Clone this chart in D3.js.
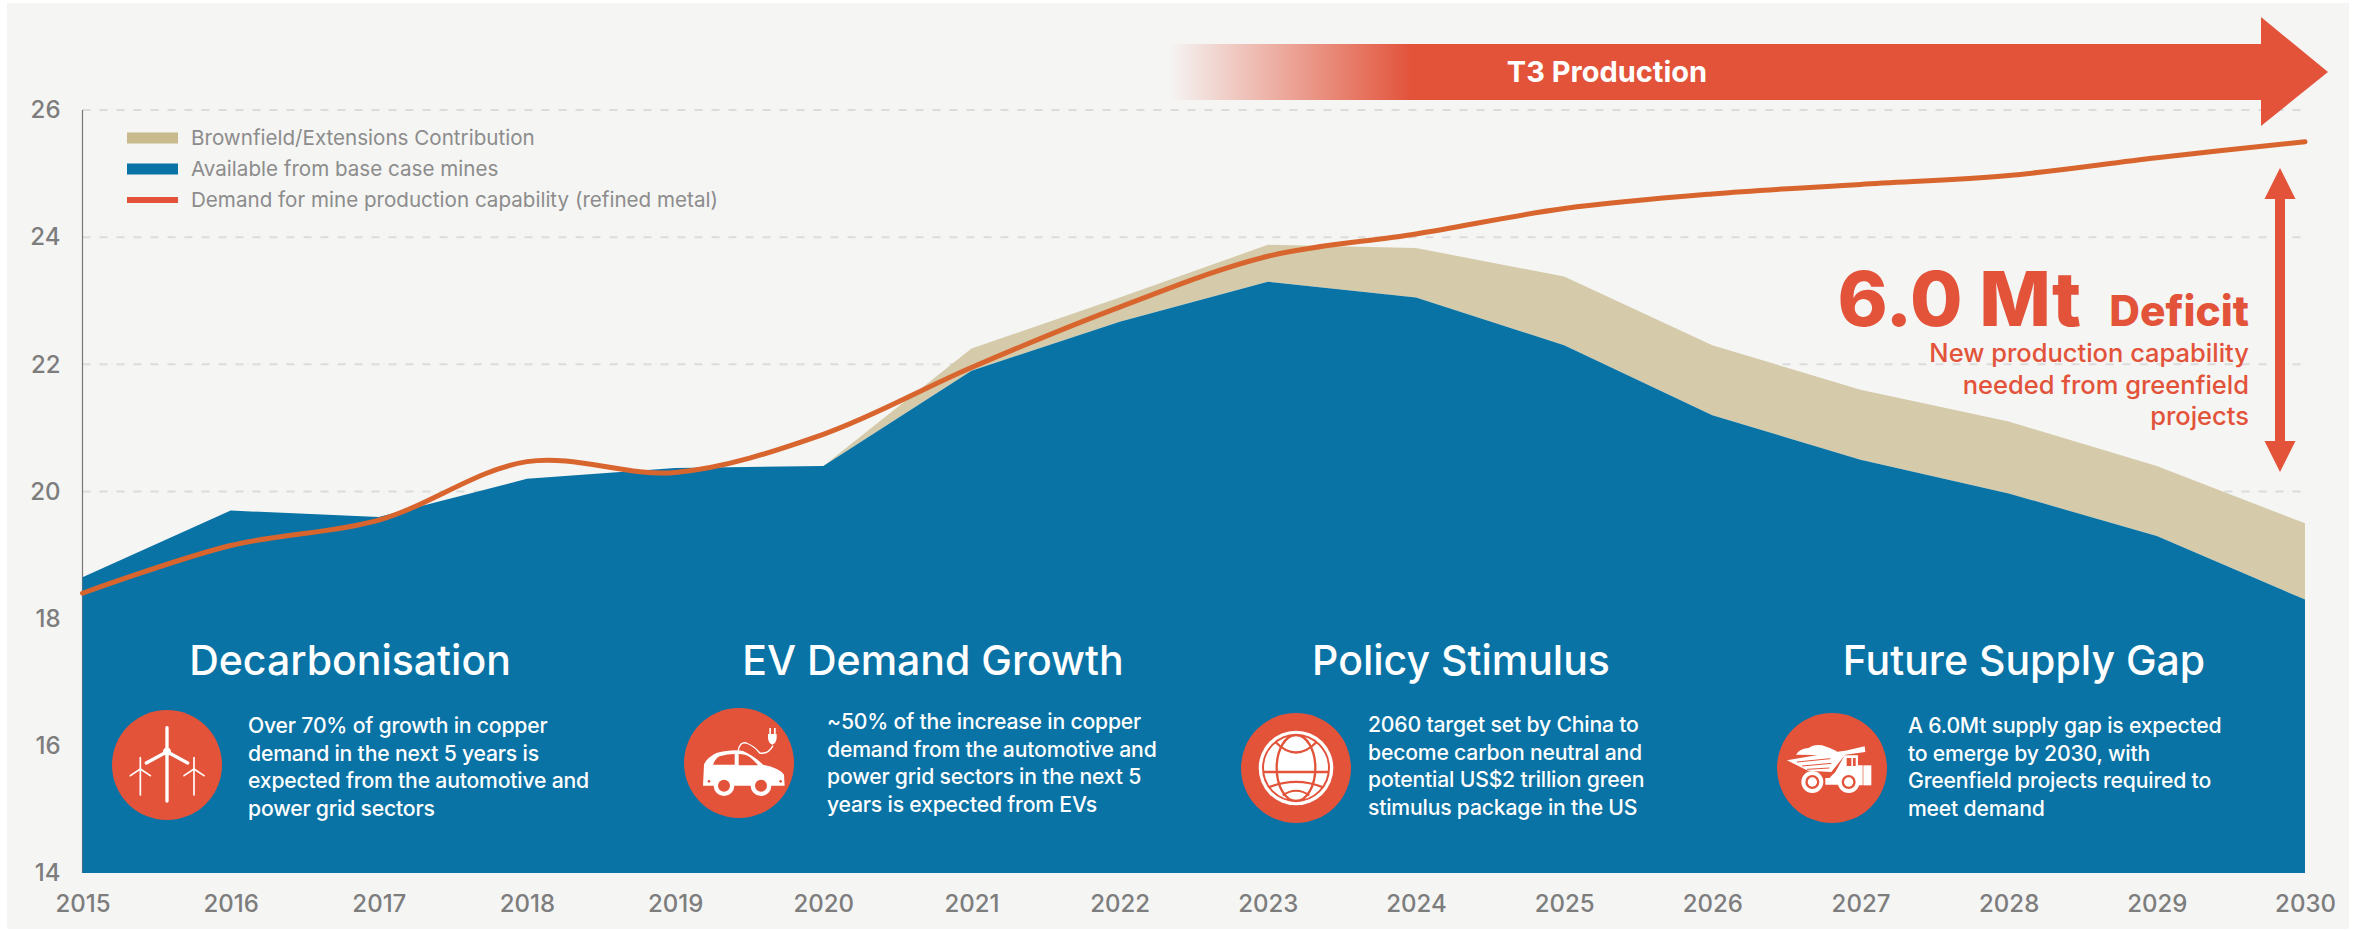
<!DOCTYPE html>
<html>
<head>
<meta charset="utf-8">
<script src="https://cdn.jsdelivr.net/npm/d3@7"></script>
<style>
  html, body { margin: 0; padding: 0; background: #fff; }
  text { font-family: Inter, "Open Sans", sans-serif; }
  .tick line { display: none; }
  .axis path.domain { display: none; }
  .axis text { font-family: Inter, sans-serif; font-size: 24px; fill: #7d7d7d; font-weight: 500; }
  .legend text { font-size: 20.6px; fill: #8c8c8c; }
  .panel-title { font-size: 41px; fill: #fff; font-weight: 500; }
  .panel-body { font-size: 21.2px; fill: #fff; font-weight: 500; letter-spacing: -0.2px; }
</style>
</head>
<body>
<svg id="chart" width="2367" height="930"></svg>
<script>
var years = [2015, 2016, 2017, 2018, 2019, 2020, 2021, 2022, 2023, 2024, 2025, 2026, 2027, 2028, 2029, 2030];
var baseMines = [18.65, 19.7, 19.6, 20.2, 20.37, 20.4, 21.9, 22.67, 23.3, 23.05, 22.3, 21.2, 20.5, 19.97, 19.3, 18.3];
var brownfieldTop = [18.65, 19.7, 19.6, 20.2, 20.37, 20.4, 22.25, 23.05, 23.88, 23.83, 23.38, 22.3, 21.6, 21.1, 20.4, 19.5];
var demand = [18.4, 19.15, 19.55, 20.47, 20.3, 20.9, 21.95, 22.9, 23.7, 24.05, 24.45, 24.68, 24.83, 24.97, 25.25, 25.5];
var yTicks = [14, 16, 18, 20, 22, 24, 26];
var legendLabels = ["Brownfield/Extensions Contribution", "Available from base case mines", "Demand for mine production capability (refined metal)"];
var panelTitles = ["Decarbonisation", "EV Demand Growth", "Policy Stimulus", "Future Supply Gap"];
var panelBodies = [
  ["Over 70% of growth in copper", "demand in the next 5 years is", "expected from the automotive and", "power grid sectors"],
  ["~50% of the increase in copper", "demand from the automotive and", "power grid sectors in the next 5", "years is expected from EVs"],
  ["2060 target set by China to", "become carbon neutral and", "potential US$2 trillion green", "stimulus package in the US"],
  ["A 6.0Mt supply gap is expected", "to emerge by 2030, with", "Greenfield projects required to", "meet demand"]
];
var deficitNotes = ["New production capability", "needed from greenfield", "projects"];

var RED = "#e2533a", BLUE = "#0a73a5", TAN = "#d5cbab", LINE = "#d9652e";

var svg = d3.select("#chart");
var x = d3.scaleLinear().domain([2015, 2030]).range([82.5, 2305]);
var y = d3.scaleLinear().domain([14, 26]).range([873, 110]);

svg.append("rect").attr("x", 7).attr("y", 3).attr("width", 2342).attr("height", 926).attr("fill", "#f5f5f4");

// grid goes under the areas
svg.append("g").selectAll("line").data(yTicks.slice(1)).enter()
   .append("line")
   .attr("x1", x(2015)).attr("x2", x(2030))
   .attr("y1", function (d) { return y(d); })
   .attr("y2", function (d) { return y(d); })
   .attr("stroke", "#dcdcdb").attr("stroke-width", 2).attr("stroke-dasharray", "8 9");

svg.append("line").attr("x1", x(2015)).attr("x2", x(2015))
   .attr("y1", y(26)).attr("y2", y(14)).attr("stroke", "#777").attr("stroke-width", 1.2);

var tanArea = d3.area()
    .x(function (d, i) { return x(years[i]); })
    .y0(function (d, i) { return y(baseMines[i]); })
    .y1(function (d) { return y(d); });
svg.append("path").attr("d", tanArea(brownfieldTop)).attr("fill", TAN);

var blueArea = d3.area()
    .x(function (d, i) { return x(years[i]); })
    .y0(y(14))
    .y1(function (d) { return y(d); });
svg.append("path").attr("d", blueArea(baseMines)).attr("fill", BLUE);

var demandLine = d3.line()
    .x(function (d, i) { return x(years[i]); })
    .y(function (d) { return y(d); })
    .curve(d3.curveCatmullRom.alpha(0.5));
svg.append("path").attr("d", demandLine(demand))
   .attr("fill", "none").attr("stroke", LINE).attr("stroke-width", 5).attr("stroke-linecap", "round");

svg.append("g").attr("class", "axis").attr("transform", "translate(" + x(2015) + ",0)")
   .call(d3.axisLeft(y).tickValues(yTicks).tickSize(0).tickPadding(22).tickFormat(d3.format("d")));
svg.append("g").attr("class", "axis").attr("transform", "translate(0," + y(14) + ")")
   .call(d3.axisBottom(x).tickValues(years).tickSize(0).tickPadding(22).tickFormat(d3.format("d")));

// legend
var legend = svg.append("g").attr("class", "legend");
var legendY = [138, 169, 200], legendH = [11, 11, 6], legendC = ["#c8ba8c", BLUE, RED];
legendLabels.forEach(function (label, i) {
  legend.append("rect").attr("x", 127).attr("y", legendY[i] - legendH[i] / 2)
        .attr("width", 51).attr("height", legendH[i]).attr("fill", legendC[i]);
  legend.append("text").attr("x", 191).attr("y", legendY[i] + 7).text(label);
});

// T3 arrow
var grad = svg.append("defs").append("linearGradient").attr("id", "fade")
    .attr("gradientUnits", "userSpaceOnUse").attr("x1", 1169).attr("x2", 1411).attr("y1", 0).attr("y2", 0);
grad.append("stop").attr("offset", 0).attr("stop-color", RED).attr("stop-opacity", 0);
grad.append("stop").attr("offset", 1).attr("stop-color", RED).attr("stop-opacity", 1);
svg.append("polygon").attr("points", "1169,44 2261,44 2261,17 2328,72 2261,126 2261,100 1169,100").attr("fill", "url(#fade)");
svg.append("text").attr("x", 1607).attr("y", 82).attr("text-anchor", "middle")
   .attr("font-size", 29).attr("font-weight", 700).attr("fill", "#fff").text("T3 Production");

// deficit arrow
svg.append("polygon")
   .attr("points", "2280,168 2295.5,199 2285,199 2285,441 2295.5,441 2280,472 2264.5,441 2275,441 2275,199 2264.5,199")
   .attr("fill", RED);
svg.append("text").attr("x", 2081).attr("y", 326).attr("text-anchor", "end")
   .attr("font-size", 76).attr("font-weight", 800).attr("fill", RED).text("6.0 Mt");
svg.append("text").attr("x", 2249).attr("y", 326).attr("text-anchor", "end")
   .attr("font-size", 42.5).attr("font-weight", 800).attr("fill", RED).text("Deficit");
deficitNotes.forEach(function (t, i) {
  svg.append("text").attr("x", 2249).attr("y", 362 + i * 31.5).attr("text-anchor", "end")
     .attr("font-size", 25.5).attr("font-weight", 500).attr("fill", RED).text(t);
});

// panels
var titleX = [350, 933, 1461, 2024], titleY = 675;
var bodyX = [248, 827, 1368, 1908], bodyY = [733, 729, 732, 733];
var iconX = [167, 739, 1296, 1832], iconY = [765, 763, 768, 768];
var iconDraw = [drawTurbines, drawCar, drawGlobe, drawTruck];

panelTitles.forEach(function (t, i) {
  svg.append("text").attr("class", "panel-title").attr("x", titleX[i]).attr("y", titleY)
     .attr("text-anchor", "middle").text(t);
  panelBodies[i].forEach(function (line, j) {
    svg.append("text").attr("class", "panel-body").attr("x", bodyX[i]).attr("y", bodyY[i] + j * 27.6).text(line);
  });
  var g = svg.append("g").attr("transform", "translate(" + iconX[i] + "," + iconY[i] + ")");
  g.append("circle").attr("r", 55).attr("fill", RED);
  iconDraw[i](g.append("g").attr("transform", "scale(0.3333)"));
});

function drawTurbines(g) {
  var W = "#fff";
  function bar(a, b, c, d, w) {
    g.append("line").attr("x1", a).attr("y1", b).attr("x2", c).attr("y2", d)
     .attr("stroke", W).attr("stroke-width", w).attr("stroke-linecap", "round");
  }
  bar(0, -112, 0, 108, 10);
  bar(0, -40, -62, -6, 10);
  bar(0, -40, 62, -6, 10);
  g.append("circle").attr("cy", -40).attr("r", 12).attr("fill", W);
  [-80, 81].forEach(function (dx) {
    bar(dx, -22, dx, 90, 5);
    bar(dx, 12, dx - 30, 32, 5);
    bar(dx, 12, dx + 30, 32, 5);
  });
}

function drawCar(g) {
  g.append("path").attr("fill", "#fff")
   .attr("d", "M-108,68 L-105,5 Q-98,-15 -68,-30 Q-20,-42 12,-36 Q45,-22 72,5 Q122,15 135,35 L137,68 Z");
  [[-45, 68], [66, 68]].forEach(function (w) {
    g.append("circle").attr("cx", w[0]).attr("cy", w[1]).attr("r", 31).attr("fill", "#fff");
    g.append("circle").attr("cx", w[0]).attr("cy", w[1]).attr("r", 18).attr("fill", RED);
  });
  g.append("path").attr("fill", RED).attr("d", "M-78,5 Q-70,-15 -58,-20 Q-35,-27 -13,-27 L-13,5 Z");
  g.append("path").attr("fill", RED).attr("d", "M-1,-27 Q20,-27 32,-18 Q45,-8 57,7 L-1,7 Z");
  g.append("circle").attr("cx", -90).attr("cy", 55).attr("r", 4).attr("fill", RED);
  g.append("circle").attr("cx", 125).attr("cy", 55).attr("r", 4).attr("fill", RED);
  g.append("path").attr("fill", "none").attr("stroke", "#fff").attr("stroke-width", 4)
   .attr("d", "M-3,-34 Q2,-65 22,-60 Q47,-50 62,-30 Q88,-25 102,-52");
  g.append("path").attr("fill", "#fff").attr("d", "M87,-87 H113 V-75 Q112,-60 100,-55 Q88,-60 87,-75 Z");
  g.append("rect").attr("x", 91).attr("y", -105).attr("width", 5).attr("height", 20).attr("fill", "#fff");
  g.append("rect").attr("x", 105).attr("y", -105).attr("width", 5).attr("height", 20).attr("fill", "#fff");
}

function drawGlobe(g) {
  g.append("circle").attr("r", 112).attr("fill", "#fff");
  g.append("circle").attr("r", 99).attr("fill", "#fff").attr("stroke", RED).attr("stroke-width", 6);
  g.append("ellipse").attr("rx", 58).attr("ry", 99).attr("fill", "none").attr("stroke", RED).attr("stroke-width", 7);
  var arcs = ["M-62,-78 Q0,-15 62,-78", "M-97,12 H97", "M-82,58 Q0,25 82,58"];
  arcs.forEach(function (d) {
    g.append("path").attr("d", d).attr("fill", "none").attr("stroke", RED).attr("stroke-width", 7);
  });
  g.append("path").attr("d", "M-40,82 Q0,55 40,82").attr("fill", "none").attr("stroke", RED).attr("stroke-width", 6);
}

function drawTruck(g) {
  // load and dump bed
  g.append("path").attr("fill", "#fff")
   .attr("d", "M-108,-40 Q-95,-60 -70,-60 Q-55,-72 -30,-68 Q-10,-62 15,-50 L5,-38 Z");
  g.append("path").attr("fill", "#fff")
   .attr("d", "M-135,-23 L10,-48 L40,-52 L98,-65 L100,-48 L40,-40 L-2,12 L-72,8 Z");
  [[-105, -18, -5, -28], [-90, -6, -2, -14], [-75, 4, -8, 0]].forEach(function (s) {
    g.append("line").attr("x1", s[0]).attr("y1", s[1]).attr("x2", s[2]).attr("y2", s[3])
     .attr("stroke", RED).attr("stroke-width", 3);
  });
  // cab and radiator
  g.append("path").attr("fill", "#fff")
   .attr("d", "M38,-38 H78 V-8 H92 V52 H75 L60,20 H30 L20,50 H-20 V30 H-8 L10,12 Z");
  g.append("rect").attr("x", 44).attr("y", -30).attr("width", 14).attr("height", 24).attr("fill", RED);
  g.append("rect").attr("x", 63).attr("y", -30).attr("width", 8).attr("height", 24).attr("fill", RED);
  g.append("rect").attr("x", 94).attr("y", -8).attr("width", 24).attr("height", 60).attr("fill", "#fff");
  [[-59, 42], [50, 42]].forEach(function (w) {
    g.append("circle").attr("cx", w[0]).attr("cy", w[1]).attr("r", 33).attr("fill", "#fff");
    g.append("circle").attr("cx", w[0]).attr("cy", w[1]).attr("r", 21).attr("fill", RED);
    g.append("circle").attr("cx", w[0]).attr("cy", w[1]).attr("r", 14).attr("fill", "#fff");
  });
}
</script>
</body>
</html>
